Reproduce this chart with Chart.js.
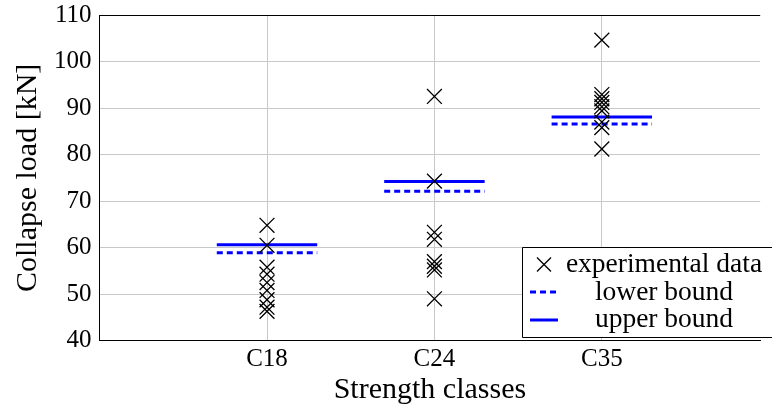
<!DOCTYPE html>
<html>
<head>
<meta charset="utf-8">
<script src="https://cdn.jsdelivr.net/npm/chart.js@4.4.0/dist/chart.umd.min.js"></script>
<style>
  html, body { margin: 0; padding: 0; background: #fff; overflow: hidden; }
  #wrap { position: relative; width: 772px; height: 408px; }
</style>
</head>
<body>
<div id="wrap"><canvas id="chart"></canvas></div>
<script>
// Data
var categories = ["C18", "C24", "C35"];
var expC18 = [64.8, 60.5, 55.8, 54.3, 52.5, 50.8, 48.8, 47.2, 46.3];
var expC24 = [92.5, 74.3, 63.3, 61.8, 57.0, 56.0, 55.2, 49.0];
var expC35 = [104.6, 92.9, 92.0, 91.2, 90.3, 89.4, 87.0, 85.8, 81.2];
var lowerBound = [58.9, 72.1, 86.6];
var upperBound = [60.6, 74.2, 88.1];
var yTicks = [40, 50, 60, 70, 80, 90, 100, 110];

var FONT = "'Liberation Serif', 'Times New Roman', serif";

// build points on a numeric x axis (category i sits at x = i + 1)
var experimental = [];
[expC18, expC24, expC35].forEach(function (arr, i) {
    arr.forEach(function (v) { experimental.push({ x: i + 1, y: v }); });
});

function boundPoints(arr) {
    var pts = [];
    arr.forEach(function (v, i) {
        pts.push({ x: i + 1 - 0.3, y: v });
        pts.push({ x: i + 1 + 0.3, y: v });
        pts.push({ x: i + 1.5, y: null });
    });
    return pts;
}

// Legend drawn inside the plot (lower right, cut off by the right edge)
var boxLegend = {
    id: "boxLegend",
    afterDatasetsDraw: function (chart) {
        var ctx = chart.ctx;
        ctx.save();
        ctx.fillStyle = "#fff";
        ctx.strokeStyle = "#000";
        ctx.lineWidth = 1;
        ctx.fillRect(522.5, 247.5, 300, 90);
        ctx.beginPath();
        ctx.moveTo(900, 247.5); ctx.lineTo(522.5, 247.5);
        ctx.lineTo(522.5, 337.5); ctx.lineTo(900, 337.5);
        ctx.stroke();

        // cross
        ctx.lineWidth = 1.3;
        ctx.beginPath();
        ctx.moveTo(537, 257.5); ctx.lineTo(551, 271.5);
        ctx.moveTo(551, 257.5); ctx.lineTo(537, 271.5);
        ctx.stroke();

        // lower bound
        ctx.strokeStyle = "#0000ff";
        ctx.lineWidth = 3;
        ctx.setLineDash([6, 4]);
        ctx.beginPath();
        ctx.moveTo(530, 292); ctx.lineTo(558, 292);
        ctx.stroke();

        // upper bound
        ctx.setLineDash([]);
        ctx.beginPath();
        ctx.moveTo(530, 320); ctx.lineTo(558, 320);
        ctx.stroke();

        ctx.fillStyle = "#000";
        ctx.font = "27.5px " + FONT;
        ctx.textAlign = "center";
        ctx.textBaseline = "alphabetic";
        ctx.fillText("experimental data", 664, 271.5);
        ctx.fillText("lower bound", 664, 299.5);
        ctx.fillText("upper bound", 664, 326.5);
        ctx.restore();
    }
};

var ctx1 = document.getElementById("chart").getContext("2d");
var myChart1 = new Chart(ctx1, {
    type: "scatter",
    data: {
        datasets: [{
                label: "experimental data",
                data: experimental,
                pointStyle: "crossRot",
                radius: 10.5,
                hoverRadius: 10.5,
                borderColor: "#000",
                backgroundColor: "#000",
                borderWidth: 1.3
            },
            {
                type: "line",
                label: "lower bound",
                data: boundPoints(lowerBound),
                borderColor: "#0000ff",
                borderWidth: 3,
                borderDash: [6, 4],
                pointRadius: 0,
                spanGaps: false,
                fill: false
            },
            {
                type: "line",
                label: "upper bound",
                data: boundPoints(upperBound),
                borderColor: "#0000ff",
                borderWidth: 3,
                pointRadius: 0,
                spanGaps: false,
                fill: false
            }
        ]
    },
    options: {
        responsive: true,
        maintainAspectRatio: false,
        animation: false,
        events: [],
        layout: { padding: { left: 0, top: 15, right: -5, bottom: 0 } },
        plugins: {
            legend: { display: false },
            tooltip: { enabled: false }
        },
        scales: {
            x: {
                type: "linear",
                min: 0,
                max: 3.946,
                afterBuildTicks: function (scale) {
                    scale.ticks = [1, 2, 3].map(function (v) { return { value: v }; });
                },
                afterFit: function (scale) {
                    scale.height = 67.3;
                    scale.paddingLeft = 0;
                    scale.paddingRight = 0;
                },
                ticks: {
                    color: "#000",
                    padding: 4,
                    font: { family: FONT, size: 25 },
                    callback: function (v) { return categories[v - 1] || ""; }
                },
                grid: {
                    drawTicks: false,
                    color: "#c8c8c8"
                },
                border: { color: "#000", width: 1 },
                title: {
                    display: true,
                    text: "Strength classes",
                    color: "#000",
                    font: { family: FONT, size: 30 },
                    padding: { top: 4, bottom: 0 }
                }
            },
            y: {
                min: 40,
                max: 110,
                afterBuildTicks: function (scale) {
                    scale.ticks = yTicks.map(function (v) { return { value: v }; });
                },
                afterFit: function (scale) {
                    scale.width = 99.6;
                    scale.paddingTop = 0;
                    scale.paddingBottom = 0;
                },
                ticks: {
                    color: "#000",
                    padding: 8,
                    font: { family: FONT, size: 25 }
                },
                grid: {
                    drawTicks: false,
                    color: function (c) {
                        var v = c.tick && c.tick.value;
                        return v === 110 ? "#000" : (v === 40 ? "rgba(0,0,0,0)" : "#c8c8c8");
                    }
                },
                border: { color: "#000", width: 1 },
                title: {
                    display: true,
                    text: "Collapse load [kN]",
                    color: "#000",
                    font: { family: FONT, size: 30 },
                    padding: { top: 10, bottom: 0 }
                }
            }
        }
    },
    plugins: [boxLegend]
});
</script>
</body>
</html>
